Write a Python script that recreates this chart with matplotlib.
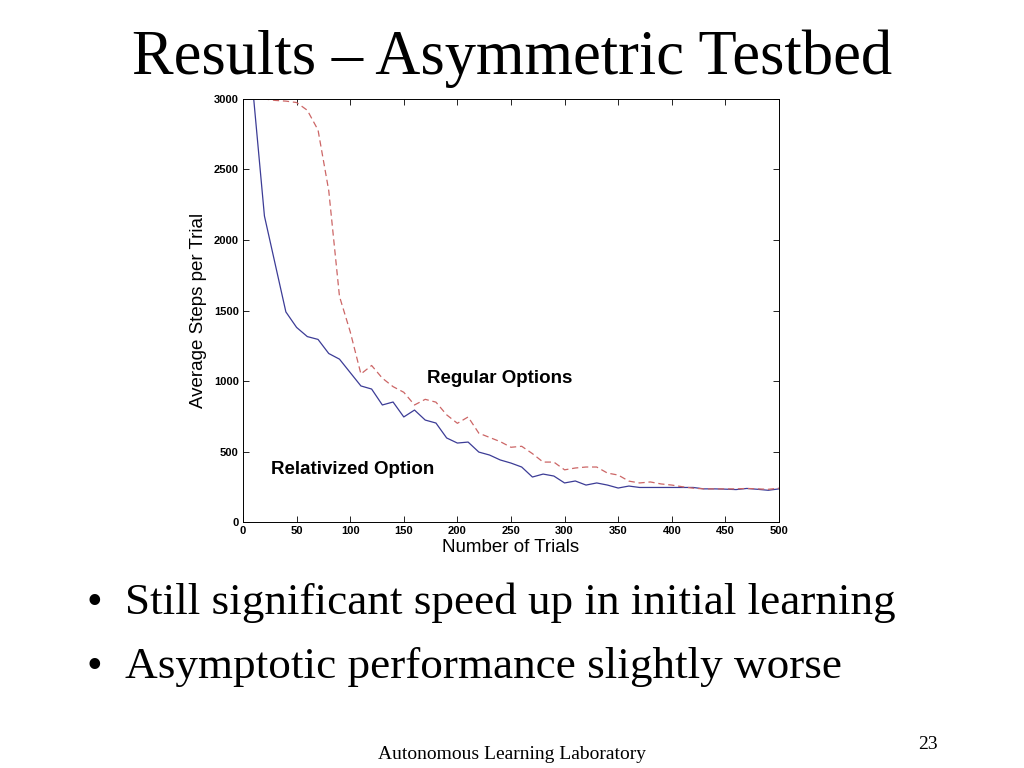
import matplotlib
matplotlib.use("Agg")
import matplotlib.pyplot as plt
import numpy as np

trials = np.arange(0, 501, 10)

relativized = [3000, 3000, 2170, 1830, 1490, 1380, 1315, 1295, 1195, 1155,
               1060, 965, 943, 830, 851, 745, 794, 723, 702, 596,
               560, 567, 496, 475, 440, 418, 390, 319, 340, 326,
               277, 291, 262, 277, 262, 241, 255, 245, 245, 245,
               245, 245, 245, 235, 235, 233, 230, 238, 232, 225,
               235]

regular = [3000, 3000, 3000, 2990, 2985, 2975, 2920, 2780, 2350, 1600,
           1350, 1050, 1110, 1020, 960, 920, 830, 870, 850, 760,
           700, 745, 630, 600, 570, 530, 537, 485, 425, 425,
           370, 383, 390, 390, 347, 333, 290, 277, 284, 270,
           262, 250, 240, 235, 235, 235, 235, 238, 235, 232,
           240]

fig = plt.figure(figsize=(10.24, 7.68), dpi=100)
fig.patch.set_facecolor("white")

serif = ["Liberation Serif", "DejaVu Serif"]
sans = ["Liberation Sans", "DejaVu Sans"]

fig.text(0.5, 0.924, "Results \u2013 Asymmetric Testbed", ha="center", va="center",
         family=serif, fontsize=45)

ax = fig.add_axes([0.2373, 0.3203, 0.5234, 0.5508])
ax.plot(trials, relativized, color="#3c3c96", linewidth=0.9)
ax.plot(trials, regular, color="#cc6666", linewidth=0.9, linestyle=(0, (5, 3)))

ax.set_xlim(0, 500)
ax.set_ylim(0, 3000)
ax.set_xticks(np.arange(0, 501, 50))
ax.set_yticks(np.arange(0, 3001, 500))
ax.tick_params(direction="in", top=True, right=True, length=4, width=0.6,
               labelsize=8, pad=3)
for lab in ax.get_xticklabels() + ax.get_yticklabels():
    lab.set_family(sans)
    lab.set_fontweight("bold")
for s in ax.spines.values():
    s.set_linewidth(0.7)

ax.set_xlabel("Number of Trials", family=sans, fontsize=13.5, labelpad=2)
ax.set_ylabel("Average Steps per Trial", family=sans, fontsize=13.5, labelpad=5)

ax.text(172, 1020, "Regular Options", family=sans, fontsize=13.5, fontweight="bold",
        ha="left", va="center")
ax.text(26, 375, "Relativized Option", family=sans, fontsize=13.5, fontweight="bold",
        ha="left", va="center")

fig.text(0.084, 0.215, "\u2022", family=serif, fontsize=32, va="center")
fig.text(0.122, 0.215, "Still significant speed up in initial learning",
         family=serif, fontsize=32.5, va="center")
fig.text(0.084, 0.131, "\u2022", family=serif, fontsize=32, va="center")
fig.text(0.122, 0.131, "Asymptotic performance slightly worse",
         family=serif, fontsize=32.5, va="center")

fig.text(0.5, 0.018, "Autonomous Learning Laboratory", ha="center", va="center",
         family=serif, fontsize=14)
fig.text(0.906, 0.03, "23", ha="center", va="center", family=serif, fontsize=14)

fig.savefig("out.png", dpi=100, facecolor="white")
